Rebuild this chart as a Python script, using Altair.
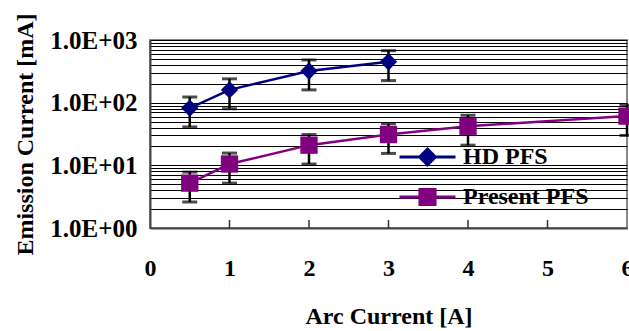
import altair as alt
import pandas as pd

# ---- data ----
series_names = ["HD PFS", "Present PFS"]
series_colors = ["#000080", "#800080"]

hd_x = [0.5, 1, 2, 3]
hd_y = [82, 160, 320, 450]
hd_lo = [41, 80, 160, 225]
hd_hi = [123, 240, 480, 675]

pr_x = [0.5, 1, 2, 3, 4, 6]
pr_y = [5.2, 10.5, 21, 31, 42, 61]
pr_lo = [2.6, 5.2, 10.5, 15.5, 21, 30]
pr_hi = [7.8, 15.7, 31, 46, 63, 91]

x_ticks = [0, 1, 2, 3, 4, 5, 6]
x_inner_ticks = [1, 2, 3, 4, 5]
y_label_values = [1, 10, 100, 1000]
y_label_texts = ["1.0E+00", "1.0E+01", "1.0E+02", "1.0E+03"]
y_grid_values = [m * d for d in [1, 10, 100] for m in range(1, 10)] + [1000]

rows = []
for name, xs, ys, los, his in [
    ("HD PFS", hd_x, hd_y, hd_lo, hd_hi),
    ("Present PFS", pr_x, pr_y, pr_lo, pr_hi),
]:
    for a, b, c, d in zip(xs, ys, los, his):
        rows.append({"arc": a, "emis": b, "lo": c, "hi": d, "series": name})
df = pd.DataFrame(rows)

FONT = "Liberation Serif, Times New Roman, serif"
FS = 24
W, H = 477, 188

label_expr = " : ".join(
    f"datum.value == {v} ? '{t}'" for v, t in zip(y_label_values, y_label_texts)
) + " : ''"

xscale = alt.Scale(domain=[0, 6], nice=False, zero=False)
yscale = alt.Scale(type="log", domain=[1, 1000], nice=False)

x_enc = alt.X(
    "arc:Q",
    scale=xscale,
    axis=alt.Axis(
        values=x_ticks,
        title="Arc Current [A]",
        grid=False,
        ticks=False,
        labelFlush=False,
        labelBound=False,
        labelOverlap=False,
        labelPadding=28,
        titlePadding=24,
        format="d",
    ),
)
y_enc = alt.Y(
    "emis:Q",
    scale=yscale,
    axis=alt.Axis(
        values=y_grid_values,
        labelExpr=label_expr,
        labelFontSize=25,
        title="Emission Current [mA]",
        grid=True,
        gridColor="#000000",
        gridWidth=1,
        gridOpacity=1,
        ticks=False,
        labelPadding=13,
        labelOverlap=False,
        labelBound=False,
        labelFlush=False,
        titlePadding=12,
    ),
)

color_noleg = alt.Color(
    "series:N",
    scale=alt.Scale(domain=series_names, range=series_colors),
    legend=None,
)

base = alt.Chart(df)

line = base.mark_line(strokeWidth=2.5).encode(x=x_enc, y=y_enc, color=color_noleg)

err = base.mark_rule(color="black", strokeWidth=2.5).encode(
    x="arc:Q", y=alt.Y("lo:Q"), y2="hi:Q"
)
caps = (
    base.transform_fold(["lo", "hi"], as_=["which", "val"])
    .mark_tick(color="black", orient="horizontal", size=15, thickness=3)
    .encode(x="arc:Q", y=alt.Y("val:Q"))
)

points = base.mark_point(filled=True, size=300, opacity=1).encode(
    x="arc:Q",
    y="emis:Q",
    color=color_noleg,
    shape=alt.Shape(
        "series:N",
        scale=alt.Scale(domain=series_names, range=["diamond", "square"]),
        legend=None,
    ),
)

legend_symbols = [
    "M-1,0H1M0,-0.28L0.28,0L0,0.28L-0.28,0Z",
    "M-1,0H1M-0.27,-0.27H0.27V0.27H-0.27Z",
]
legend_y = [98, 138]


def legend_layer(i):
    return (
        base.transform_filter("false")
        .mark_point(filled=True, opacity=1)
        .encode(
            x="arc:Q",
            y="emis:Q",
            color=alt.Color(
                "series:N",
                scale=alt.Scale(domain=[series_names[i]], range=[series_colors[i]]),
                legend=alt.Legend(
                    title=None,
                    orient="none",
                    legendX=248,
                    legendY=legend_y[i],
                    symbolType=legend_symbols[i],
                    symbolFillColor=series_colors[i],
                    symbolStrokeColor=series_colors[i],
                    symbolStrokeWidth=3,
                    symbolSize=3136,
                    symbolOpacity=1,
                    clipHeight=38,
                    labelOffset=6,
                    padding=0,
                ),
            ),
        )
    )


inner_ticks = (
    alt.Chart(pd.DataFrame({"t": x_inner_ticks}))
    .mark_rule(color="#333333", strokeWidth=1.5)
    .encode(x=alt.X("t:Q", scale=xscale), y=alt.value(H - 8), y2=alt.value(H))
)

chart = (
    alt.layer(line, err, caps, points, legend_layer(0), legend_layer(1), inner_ticks)
    .resolve_scale(color="independent")
    .properties(width=W, height=H, autosize=alt.AutoSizeParams(type="none"),
                padding={"left": 150, "top": 40, "right": 2, "bottom": 103})
    .configure_view(stroke="#888888", strokeWidth=2)
    .configure_axis(
        labelFont=FONT,
        titleFont=FONT,
        labelFontSize=FS,
        titleFontSize=FS,
        labelFontWeight="bold",
        titleFontWeight="bold",
        labelColor="black",
        titleColor="black",
        domainColor="#444444",
        domainWidth=2,
    )
    .configure_legend(
        labelFont=FONT,
        labelFontSize=FS,
        labelFontWeight="bold",
        labelColor="black",
    )
)

chart.save("out.html", embed_options={"renderer": "svg", "actions": False})
